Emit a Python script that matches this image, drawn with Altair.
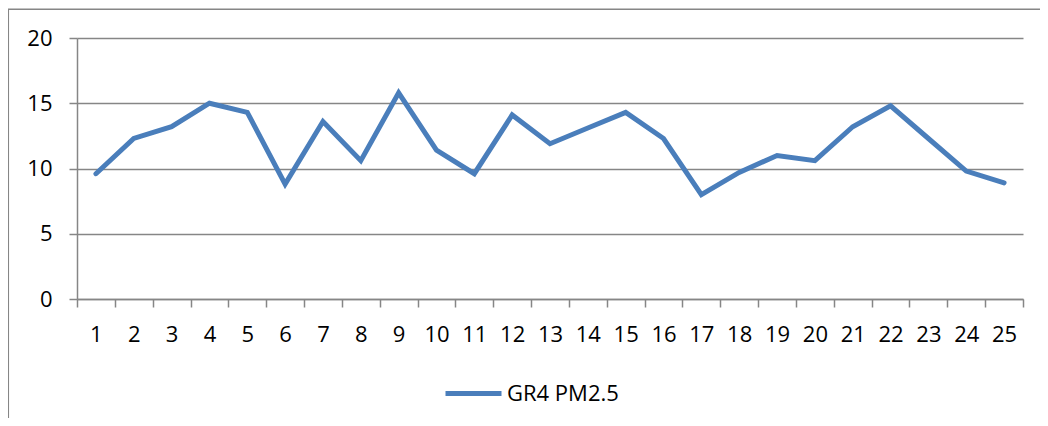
import altair as alt
import pandas as pd

days = [str(i) for i in range(1, 26)]
pm25 = [9.6, 12.3, 13.2, 15.0, 14.3, 8.8, 13.6, 10.6, 15.8, 11.4, 9.6, 14.1, 11.9,
        13.1, 14.3, 12.3, 8.0, 9.7, 11.0, 10.6, 13.2, 14.8, 12.3, 9.8, 8.9]
series = "GR4 PM2.5"

df = pd.DataFrame({"day": days, "value": pm25, "series": [series] * len(days)})

FONT = "Open Sans"
GRAY = "#868686"

line = alt.Chart(df).mark_line(strokeWidth=5, strokeJoin="miter", strokeCap="round").encode(
    x=alt.X("day:O", sort=days, bandPosition=0.5,
            scale=alt.Scale(type="band", paddingInner=0, paddingOuter=0),
            axis=alt.Axis(title=None, labelAngle=0, tickBand="extent", tickSize=8,
                          tickColor=GRAY, domainColor=GRAY, labelFont=FONT,
                          labelFontSize=22, labelColor="black", labelPadding=34,
                          labelBaseline="alphabetic", grid=False, domainWidth=1.5,
                          tickWidth=1.5)),
    y=alt.Y("value:Q", scale=alt.Scale(domain=[0, 20], nice=False),
            axis=alt.Axis(title=None, values=[0, 5, 10, 15, 20], tickSize=8,
                          tickColor=GRAY, domainColor=GRAY, gridColor=GRAY,
                          gridWidth=1.5, domainWidth=1.5, tickWidth=1.5,
                          labelFont=FONT, labelFontSize=22, labelColor="black",
                          labelPadding=17)),
    color=alt.Color("series:N", scale=alt.Scale(range=["#4A7EBB"]),
                    legend=alt.Legend(title=None, orient="none", legendX=366, legendY=325,
                                      symbolType="stroke", symbolSize=3136,
                                      symbolStrokeWidth=5, labelFont=FONT,
                                      labelFontSize=22, labelColor="black",
                                      labelOffset=3, padding=0)),
)

top_border = alt.Chart(df.head(1)).mark_rule(color=GRAY, strokeWidth=1.5).encode(
    x=alt.value(-69), x2=alt.value(980), y=alt.value(-28.7)
)
left_border = alt.Chart(df.head(1)).mark_rule(color=GRAY, strokeWidth=1.5).encode(
    x=alt.value(-68.7), y=alt.value(-28.7), y2=alt.value(400)
)

chart = alt.layer(line, top_border, left_border).properties(
    width=946, height=261,
    autosize=alt.AutoSizeParams(type="none"),
    padding={"left": 69, "top": 30, "right": 17, "bottom": 119},
).configure_view(stroke=None)

chart.save("out.html", embed_options={"renderer": "svg", "actions": False})
